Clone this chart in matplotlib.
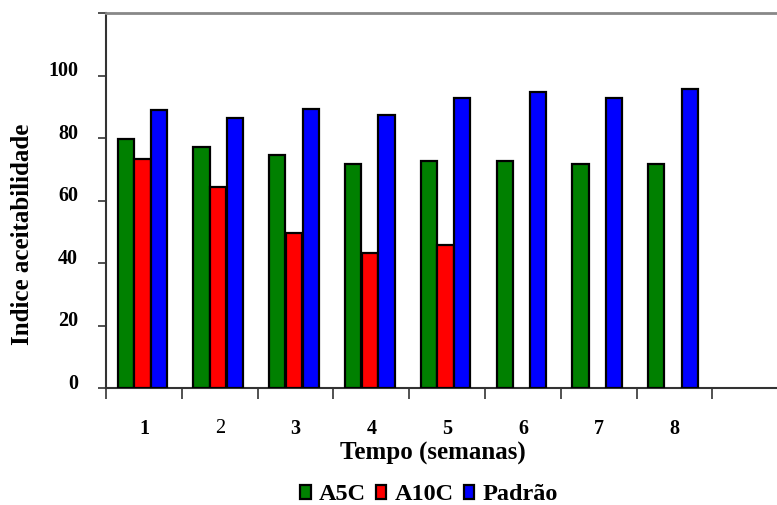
import matplotlib
matplotlib.use("Agg")
import matplotlib.pyplot as plt
from matplotlib.transforms import ScaledTranslation
import numpy as np

plt.rcParams['font.family'] = ['Liberation Serif', 'DejaVu Serif']

weeks = ['1', '2', '3', '4', '5', '6', '7', '8']
a5c = [79.8, 77.2, 74.4, 71.6, 72.6, 72.6, 71.6, 71.6]
a10c = [73.3, 64.2, 49.6, 43.2, 45.8, None, None, None]
padrao = [89.1, 86.4, 89.2, 87.3, 92.8, 94.6, 92.8, 95.6]
series_names = ['A5C', 'A10C', 'Padrão']
colors = ['#008000', '#FF0000', '#0000FF']
yticks = [0, 20, 40, 60, 80, 100, 120]
ytick_labels = ['0', '20', '40', '60', '80', '100', '']

fig = plt.figure(figsize=(7.77, 5.05), dpi=100)
ax = fig.add_axes([106/777, 1-388/505, 1-106/777, (388-13)/505])

x = np.arange(1, len(weeks) + 1)
w = 0.215
offs = [-0.24, -0.02, 0.20]
for vals, off, c, name in zip([a5c, a10c, padrao], offs, colors, series_names):
    xs = [xi + off for xi, v in zip(x, vals) if v is not None]
    vs = [v for v in vals if v is not None]
    ax.bar(xs, vs, width=w, color=c, edgecolor='black', linewidth=1.6, label=name, zorder=3)

ax.set_xlim(0.5, 0.5 + (777-106)/75.8)
ax.set_ylim(0, 120)
ax.set_yticks(yticks)
ax.set_yticklabels(ytick_labels, fontsize=14.5, fontweight='bold')
ax.tick_params(axis='y', direction='out', length=6, width=1.2, color='#333333', pad=14)
for lab in ax.get_yticklabels():
    lab.set_transform(lab.get_transform() + ScaledTranslation(0, 5/72, fig.dpi_scale_trans))

ax.set_xticks(x)
labels = ax.set_xticklabels(weeks, fontsize=14.5, fontweight='bold')
labels[1].set_fontweight('normal')
ax.tick_params(axis='x', which='major', length=0, pad=22)
ax.set_xticks(np.arange(0.5, 9.0, 1.0), minor=True)
ax.tick_params(axis='x', which='minor', direction='out', length=8, width=1.2, color='#333333')

ax.spines['right'].set_visible(False)
ax.spines['top'].set_color('#888888')
ax.spines['top'].set_linewidth(2)
ax.spines['left'].set_color('#333333')
ax.spines['left'].set_linewidth(1.5)
ax.spines['bottom'].set_color('#333333')
ax.spines['bottom'].set_linewidth(1.5)

fig.text(23/777, 1-234/505, 'Indice aceitabilidade', fontsize=18, fontweight='bold',
         rotation=90, ha='center', va='center')
fig.text(433/777, 1-453/505, 'Tempo (semanas)', fontsize=18, fontweight='bold', ha='center', va='center')

leg = fig.legend(loc='center', bbox_to_anchor=(429/777, 1-495/505), ncol=3, frameon=False,
                 prop={'size': 17.5, 'weight': 'bold'}, handlelength=0.42, handleheight=0.5,
                 handletextpad=0.35, columnspacing=0.4, borderpad=0, borderaxespad=0)

fig.savefig('out.png', dpi=100)
